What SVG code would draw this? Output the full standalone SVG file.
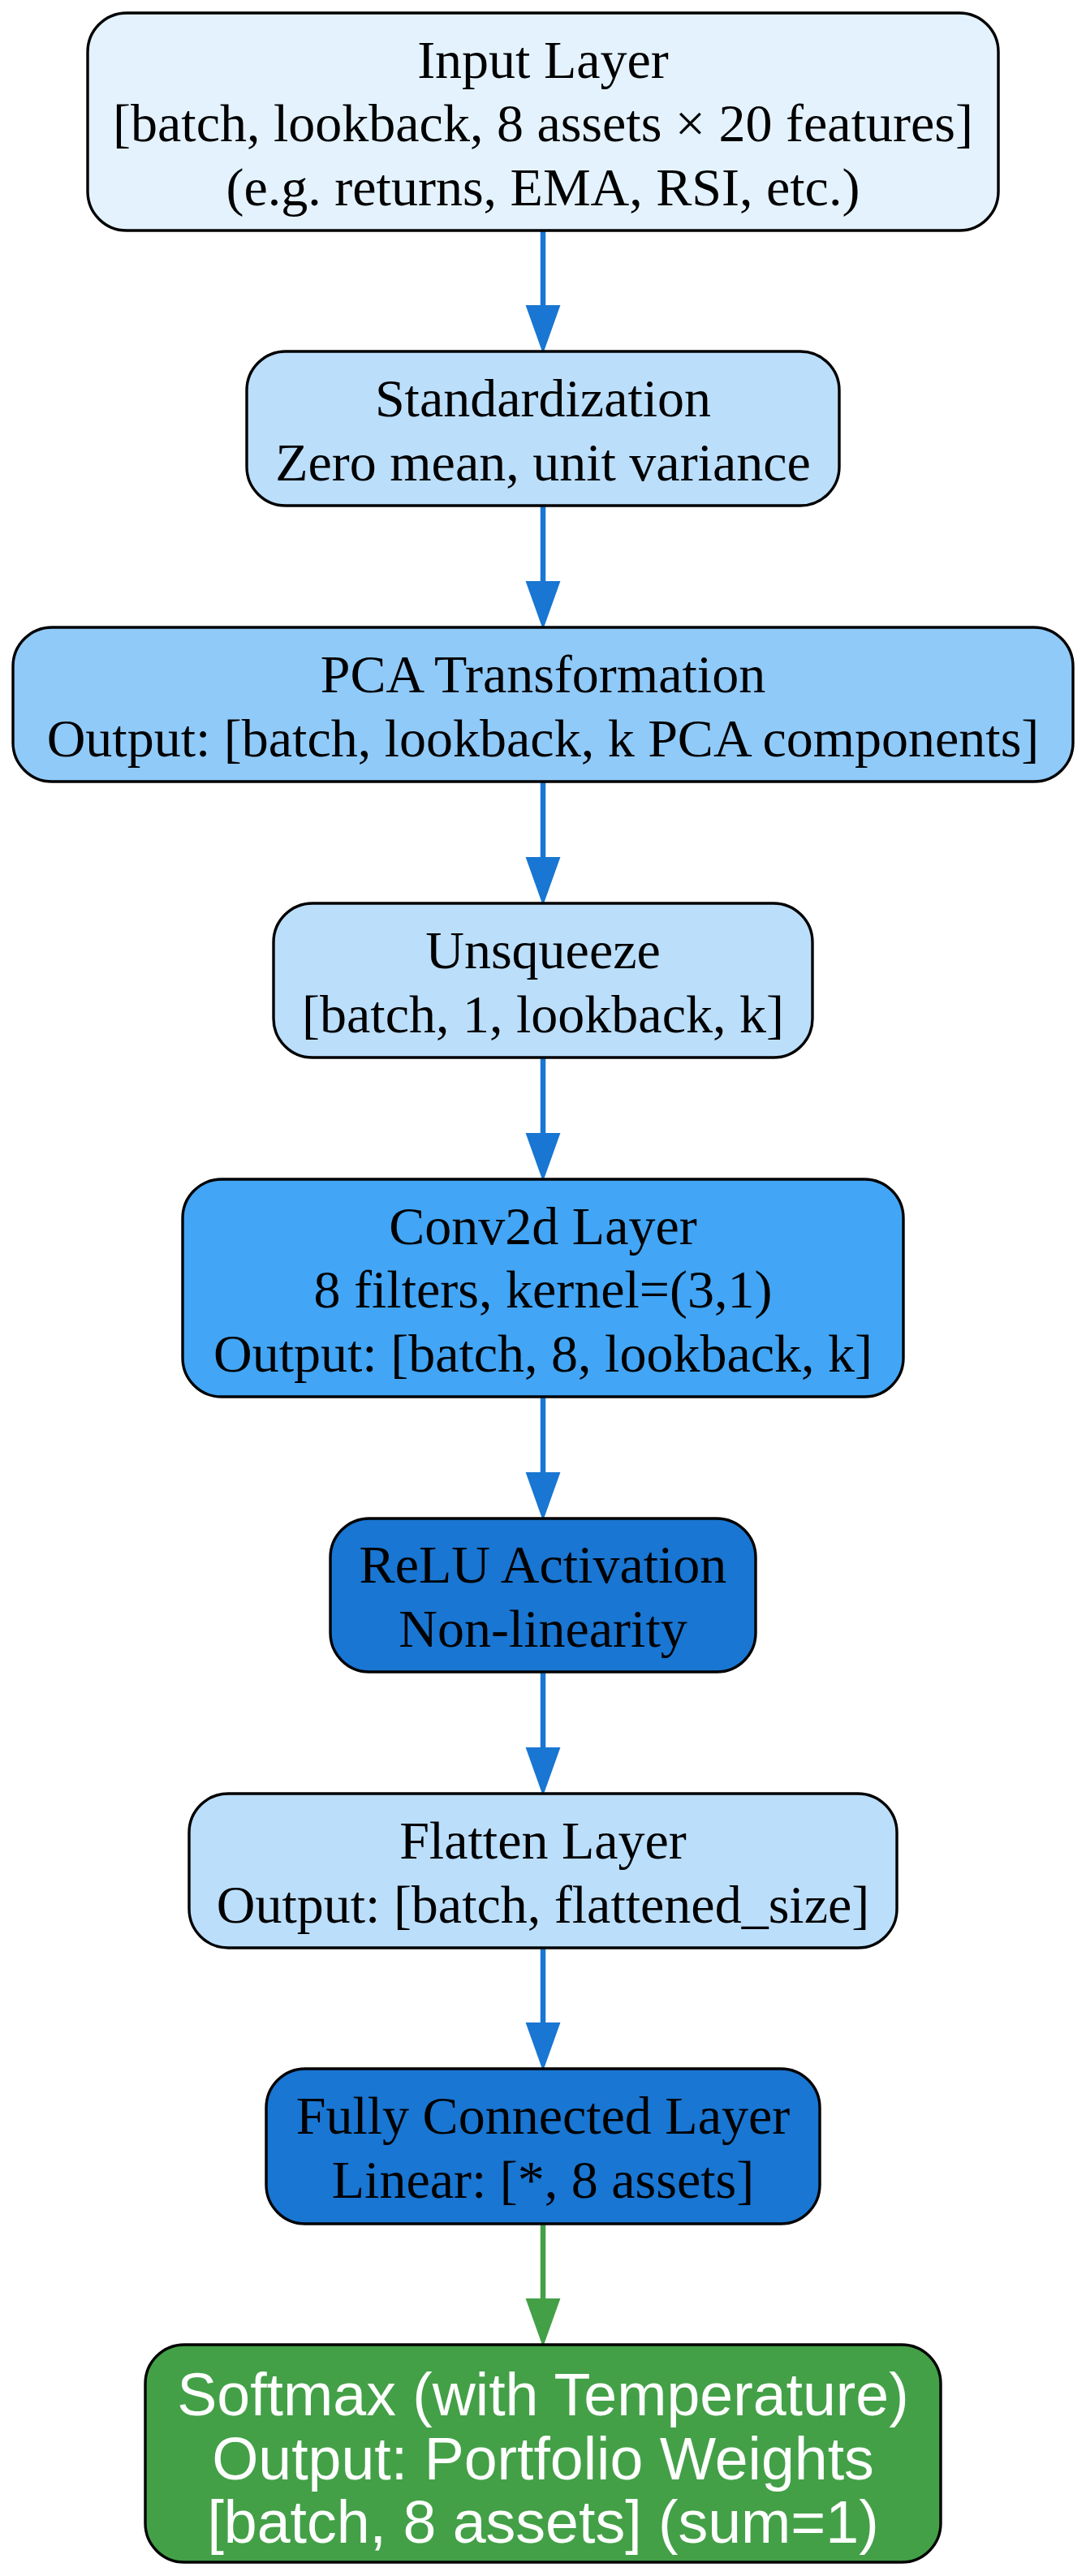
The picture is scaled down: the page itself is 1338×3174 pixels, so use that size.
<svg xmlns="http://www.w3.org/2000/svg" width="1338" height="3174" viewBox="0 0 1338 3174">
<style>
.box{stroke:#000;stroke-width:3.4}
.t{font-family:"Liberation Serif","Times New Roman",serif;font-size:66px;text-anchor:middle;fill:#000}
.s{font-family:"Liberation Sans",Arial,sans-serif;font-size:73.5px;text-anchor:middle;fill:#fff}
.e{stroke:#1976d2;stroke-width:6.5;fill:none}
.eh{fill:#1976d2;stroke:#1976d2;stroke-width:2}
.g{stroke:#43a047;stroke-width:6.5;fill:none}
.gh{fill:#43a047;stroke:#43a047;stroke-width:2}
</style>
<rect width="1338" height="3174" fill="#fff"/>
<g id="connectors">
<line class="e" x1="669" y1="284" x2="669" y2="377"/><polygon class="eh" points="649,377 689,377 669,433"/>
<line class="e" x1="669" y1="623" x2="669" y2="717"/><polygon class="eh" points="649,717 689,717 669,773"/>
<line class="e" x1="669" y1="963" x2="669" y2="1057"/><polygon class="eh" points="649,1057 689,1057 669,1113"/>
<line class="e" x1="669" y1="1303" x2="669" y2="1397"/><polygon class="eh" points="649,1397 689,1397 669,1453"/>
<line class="e" x1="669" y1="1721" x2="669" y2="1815"/><polygon class="eh" points="649,1815 689,1815 669,1871"/>
<line class="e" x1="669" y1="2060" x2="669" y2="2154"/><polygon class="eh" points="649,2154 689,2154 669,2210"/>
<line class="e" x1="669" y1="2400" x2="669" y2="2493"/><polygon class="eh" points="649,2493 689,2493 669,2549"/>
<line class="g" x1="669" y1="2740" x2="669" y2="2833"/><polygon class="gh" points="649,2833 689,2833 669,2889"/>
</g>
<g id="input">
<rect class="box" x="108" y="16" width="1122" height="268" rx="48" fill="#e3f2fd"/>
<text class="t" x="669" y="96">Input Layer</text>
<text class="t" x="669" y="174">[batch, lookback, 8 assets × 20 features]</text>
<text class="t" x="669" y="253">(e.g. returns, EMA, RSI, etc.)</text>
</g>
<g id="standardization">
<rect class="box" x="304" y="433" width="730" height="190" rx="48" fill="#bbdefb"/>
<text class="t" x="669" y="513">Standardization</text>
<text class="t" x="669" y="592">Zero mean, unit variance</text>
</g>
<g id="pca">
<rect class="box" x="16" y="773" width="1306" height="190" rx="48" fill="#90caf9"/>
<text class="t" x="669" y="853">PCA Transformation</text>
<text class="t" x="669" y="932">Output: [batch, lookback, k PCA components]</text>
</g>
<g id="unsqueeze">
<rect class="box" x="337" y="1113" width="664" height="190" rx="48" fill="#bbdefb"/>
<text class="t" x="669" y="1193">Unsqueeze</text>
<text class="t" x="669" y="1272">[batch, 1, lookback, k]</text>
</g>
<g id="conv2d">
<rect class="box" x="225" y="1453" width="888" height="268" rx="48" fill="#42a5f5"/>
<text class="t" x="669" y="1533">Conv2d Layer</text>
<text class="t" x="669" y="1611">8 filters, kernel=(3,1)</text>
<text class="t" x="669" y="1690">Output: [batch, 8, lookback, k]</text>
</g>
<g id="relu">
<rect class="box" x="407" y="1871" width="524" height="189" rx="48" fill="#1976d2"/>
<text class="t" x="669" y="1950">ReLU Activation</text>
<text class="t" x="669" y="2029">Non-linearity</text>
</g>
<g id="flatten">
<rect class="box" x="233" y="2210" width="872" height="190" rx="48" fill="#bbdefb"/>
<text class="t" x="669" y="2290">Flatten Layer</text>
<text class="t" x="669" y="2369">Output: [batch, flattened_size]</text>
</g>
<g id="fc">
<rect class="box" x="328" y="2549" width="682" height="191" rx="48" fill="#1976d2"/>
<text class="t" x="669" y="2629">Fully Connected Layer</text>
<text class="t" x="669" y="2708">Linear: [*, 8 assets]</text>
</g>
<g id="softmax">
<rect class="box" x="179" y="2889" width="980" height="268" rx="48" fill="#43a047"/>
<text class="s" x="669" y="2976">Softmax (with Temperature)</text>
<text class="s" x="669" y="3055">Output: Portfolio Weights</text>
<text class="s" x="669" y="3133">[batch, 8 assets] (sum=1)</text>
</g>
</svg>
